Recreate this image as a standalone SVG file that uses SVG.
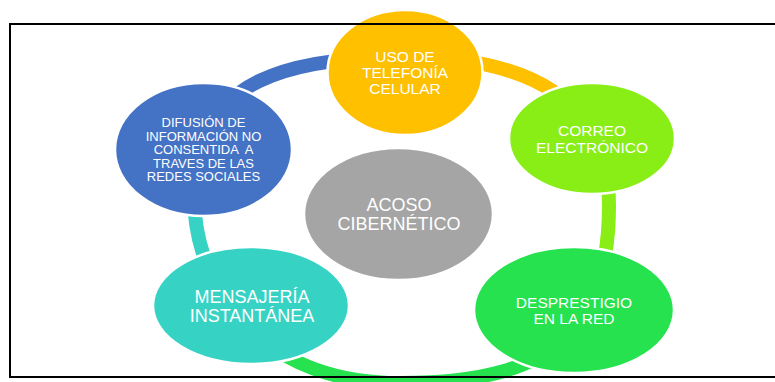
<svg xmlns="http://www.w3.org/2000/svg" width="775" height="382" viewBox="0 0 775 382">
<style>
.t{font-family:"Liberation Sans",Arial,sans-serif;fill:#fff;text-anchor:middle}
.node{stroke:#fff;stroke-width:2.5}
.ring{fill:none;stroke-width:14;stroke-linecap:butt}
</style>
<defs>
<path id="ringpath" d="M404,57 C539,57 609,107 609,205 C609,333 550,383 400,383 C262,383 194,290 194,195 C194,98 257,57 404,57 Z"/>
</defs>
<rect x="0" y="0" width="775" height="382" fill="#fff"/>
<g id="connectors">
<use href="#ringpath" class="ring" stroke="#FFC000" pathLength="1192" stroke-dasharray="0 0 200 3000"/>
<use href="#ringpath" class="ring" stroke="#88EE16" pathLength="1192" stroke-dasharray="0 200 225 3000"/>
<use href="#ringpath" class="ring" stroke="#25E24E" pathLength="1192" stroke-dasharray="0 425 343 3000"/>
<use href="#ringpath" class="ring" stroke="#36D3C5" pathLength="1192" stroke-dasharray="0 768 198 3000"/>
<use href="#ringpath" class="ring" stroke="#4472C4" pathLength="1192" stroke-dasharray="0 966 226 3000"/>
</g>
<g id="acoso">
<ellipse class="node" cx="398.5" cy="214" rx="94.5" ry="66" fill="#A5A5A5"/>
<text class="t" font-size="18" x="399" y="211">ACOSO</text>
<text class="t" font-size="18" x="399" y="230">CIBERNÉTICO</text>
</g>
<g id="uso">
<ellipse class="node" cx="405" cy="72.5" rx="77.5" ry="62.5" fill="#FFC000"/>
<text class="t" font-size="15.5" x="405" y="61.7">USO DE</text>
<text class="t" font-size="15.5" x="405" y="77.7">TELEFONÍA</text>
<text class="t" font-size="15.5" x="405" y="93.5">CELULAR</text>
</g>
<g id="correo">
<ellipse class="node" cx="592" cy="138.5" rx="83" ry="55.5" fill="#88EE16"/>
<text class="t" font-size="15.5" x="592" y="136">CORREO</text>
<text class="t" font-size="15.5" x="592" y="152.5">ELECTRÓNICO</text>
</g>
<g id="desprestigio">
<ellipse class="node" cx="574" cy="310" rx="100" ry="63" fill="#25E24E"/>
<text class="t" font-size="15.5" x="574" y="307.5">DESPRESTIGIO</text>
<text class="t" font-size="15.5" x="574" y="324">EN LA RED</text>
</g>
<g id="mensajeria">
<ellipse class="node" cx="251" cy="305.5" rx="98" ry="58.5" fill="#36D3C5"/>
<text class="t" font-size="18" x="252" y="303">MENSAJERÍA</text>
<text class="t" font-size="18" x="252" y="322">INSTANTÁNEA</text>
</g>
<g id="difusion">
<ellipse class="node" cx="203.5" cy="149.5" rx="88.5" ry="66.5" fill="#4472C4"/>
<text class="t" font-size="13" x="203.5" y="127">DIFUSIÓN DE</text>
<text class="t" font-size="13" x="203.5" y="140.5">INFORMACIÓN NO</text>
<text class="t" font-size="13" x="203.5" y="154" xml:space="preserve">CONSENTIDA  A</text>
<text class="t" font-size="13" x="203.5" y="167.5">TRAVES DE LAS</text>
<text class="t" font-size="13" x="203.5" y="181">REDES SOCIALES</text>
</g>
<rect id="frame" x="10" y="24" width="800" height="353" fill="none" stroke="#000" stroke-width="2"/>
</svg>
